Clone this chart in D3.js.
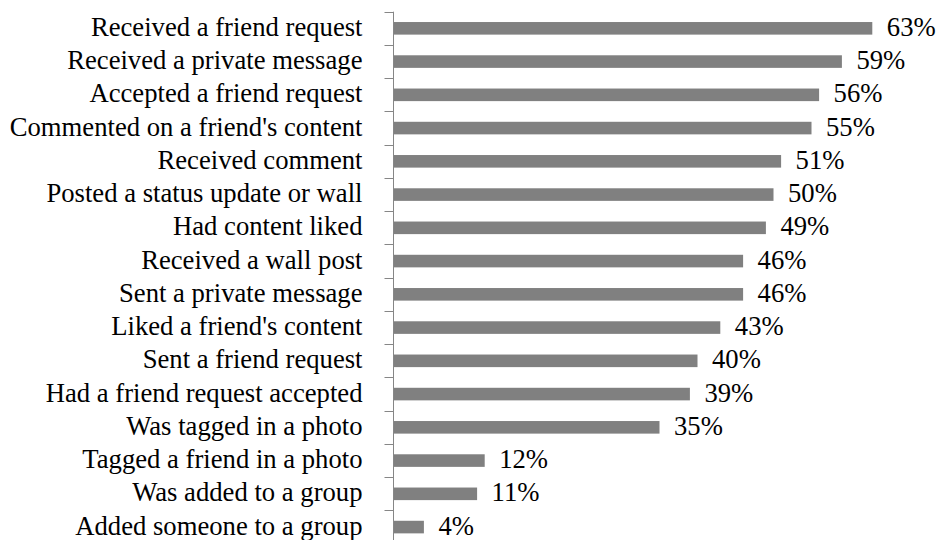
<!DOCTYPE html>
<html>
<head>
<meta charset="utf-8">
<script src="https://cdn.jsdelivr.net/npm/d3@7"></script>
<style>
  html, body { margin: 0; padding: 0; background: #fff; }
  svg { display: block; }
</style>
</head>
<body>
<svg id="chart" width="941" height="540"></svg>
<script>
// Share of users who did each activity
const categories = [
  "Received a friend request",
  "Received a private message",
  "Accepted a friend request",
  "Commented on a friend's content",
  "Received comment",
  "Posted a status update or wall",
  "Had content liked",
  "Received a wall post",
  "Sent a private message",
  "Liked a friend's content",
  "Sent a friend request",
  "Had a friend request accepted",
  "Was tagged in a photo",
  "Tagged a friend in a photo",
  "Was added to a group",
  "Added someone to a group"
];
const values = [63, 59, 56, 55, 51, 50, 49, 46, 46, 43, 40, 39, 35, 12, 11, 4];
const valueLabels = values.map(v => v + "%");

const svg = d3.select("#chart");
const fontSize = 26.67;
const fontFamily = "'Liberation Serif', 'Times New Roman', Times, serif";

const axisX = 393.5;
const plotTop = 11.7;
const step = 33.25;

// Category bands: each band runs from one tick to the next
const y = d3.scaleBand()
  .domain(categories)
  .range([plotTop, plotTop + step * categories.length])
  .padding(0);

// Bar inside each band
const barInner = d3.scaleBand()
  .domain(["bar"])
  .range([0, y.bandwidth()])
  .paddingInner(0)
  .paddingOuter(0.82);

const x = d3.scaleLinear()
  .domain([0, 70])
  .range([axisX, axisX + 70 * 7.6]);

// Bars
svg.append("g")
  .selectAll("rect")
  .data(categories)
  .join("rect")
  .attr("x", x(0))
  .attr("y", c => y(c) + barInner("bar"))
  .attr("width", (c, i) => x(values[i]) - x(0))
  .attr("height", barInner.bandwidth())
  .attr("fill", "#808080");

// Vertical category axis with ticks between bands
const axisG = svg.append("g").attr("stroke", "#868686").attr("stroke-width", 1);
axisG.append("line")
  .attr("x1", axisX).attr("x2", axisX)
  .attr("y1", y.range()[0]).attr("y2", y.range()[1]);
const boundaries = categories.map(c => y(c)).concat([y.range()[1]]);
axisG.selectAll("line.tick")
  .data(boundaries)
  .join("line")
  .attr("class", "tick")
  .attr("x1", axisX - 9).attr("x2", axisX)
  .attr("y1", d => Math.round(d) + 0.5).attr("y2", d => Math.round(d) + 0.5);

// Category labels
svg.append("g")
  .attr("font-family", fontFamily)
  .attr("font-size", fontSize)
  .attr("fill", "#000")
  .selectAll("text")
  .data(categories)
  .join("text")
  .attr("x", 362.5)
  .attr("y", c => y(c) + y.bandwidth() / 2)
  .attr("dy", "0.28em")
  .attr("text-anchor", "end")
  .text(c => c);

// Value labels
svg.append("g")
  .attr("font-family", fontFamily)
  .attr("font-size", fontSize)
  .attr("fill", "#000")
  .selectAll("text")
  .data(categories)
  .join("text")
  .attr("x", (c, i) => x(values[i]) + 14.5)
  .attr("y", c => y(c) + y.bandwidth() / 2)
  .attr("dy", "0.28em")
  .text((c, i) => valueLabels[i]);
</script>
</body>
</html>
